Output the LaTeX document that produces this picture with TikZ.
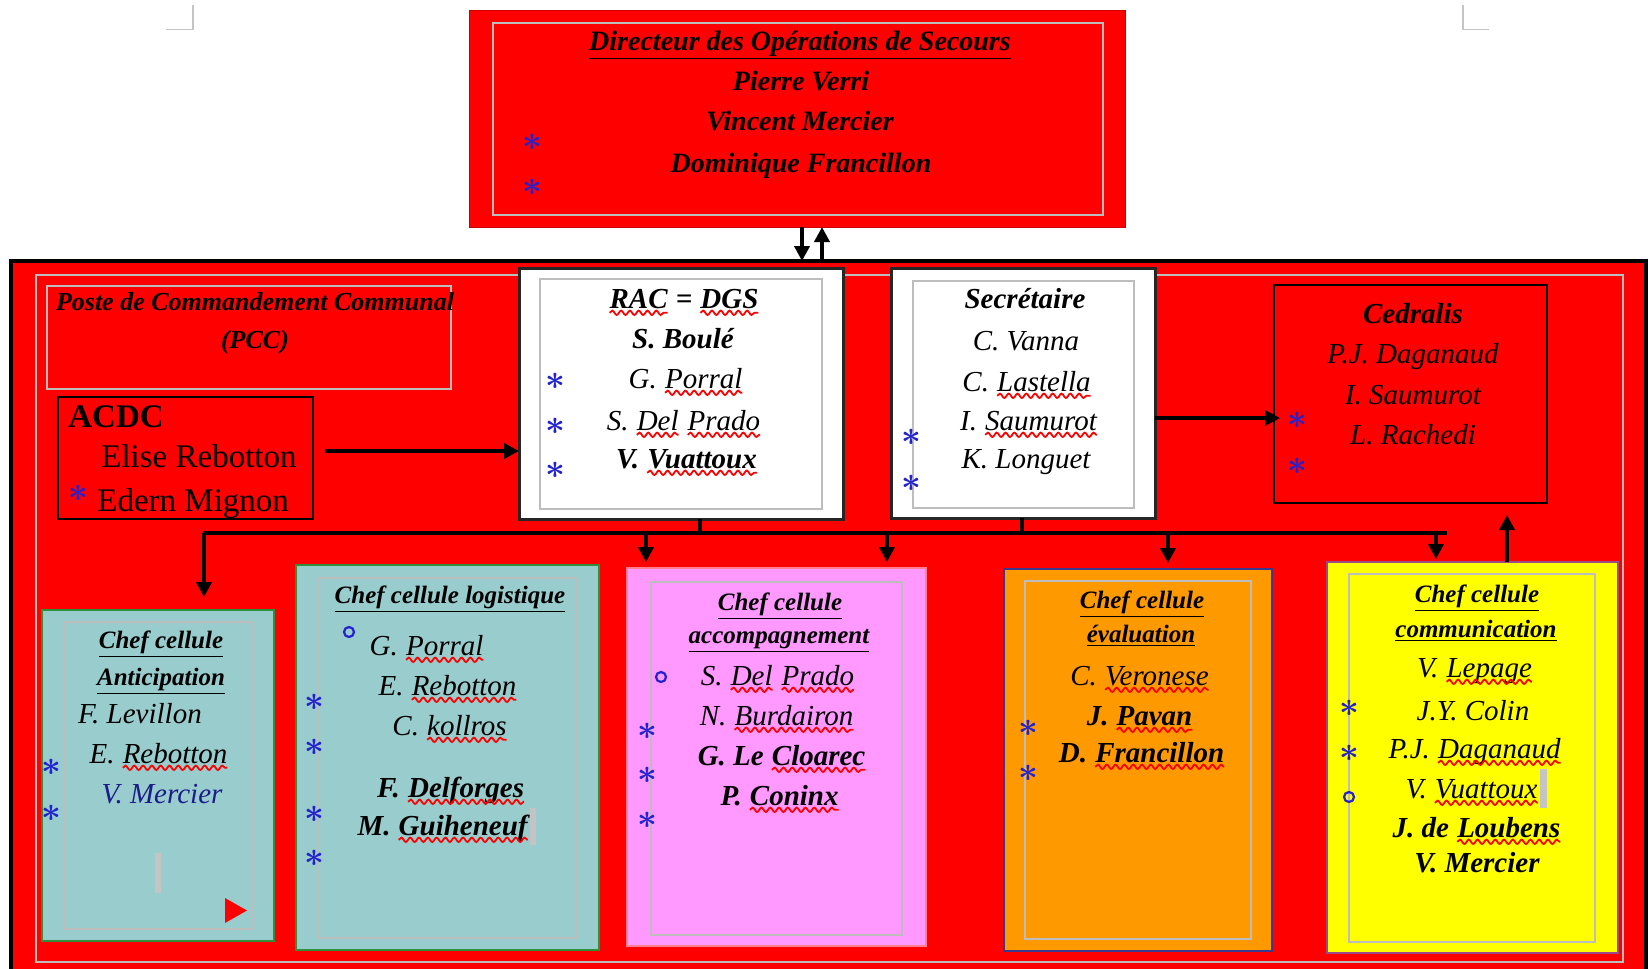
\documentclass[tikz,border=0pt]{standalone}
\usepackage{fontspec}
\setmainfont{Liberation Serif}
\usetikzlibrary{arrows.meta,fit,decorations.pathmorphing}
\definecolor{pred}{HTML}{FF0000}
\definecolor{tealfill}{HTML}{99CCCC}
\definecolor{tealedge}{HTML}{2F8F3A}
\definecolor{pinkfill}{HTML}{FF99FF}
\definecolor{pinkedge}{HTML}{FF7F8F}
\definecolor{orangefill}{HTML}{FF9900}
\definecolor{orangeedge}{HTML}{3A3A8C}
\definecolor{yellowfill}{HTML}{FFFF00}
\definecolor{yellowedge}{HTML}{9A4A8A}
\definecolor{fgray}{HTML}{BDBDBD}
\definecolor{cgray}{HTML}{C4C4C4}
\definecolor{sblue}{HTML}{2222D0}
\definecolor{navyname}{HTML}{1C1C8A}
\tikzset{wavy/.style={draw=red, line width=0.9pt, decorate,
  decoration={snake, amplitude=1.1pt, segment length=4.4pt}}}
\newcommand\sq[1]{\tikz[baseline=(sqw.base)]{\node[inner sep=0pt, outer sep=0pt, anchor=base] (sqw) {#1};
  \path[wavy] ([yshift=-2.4pt]sqw.base west) -- ([yshift=-2.4pt]sqw.base east);}}
\begin{document}
\begin{tikzpicture}[x=0.5pt,y=-0.5pt,
  panel/.style={inner sep=0pt, outer sep=0pt},
  frame/.style={panel, draw=fgray, line width=0.6pt},
  cropmark/.style={draw=cgray, line width=0.6pt},
  nm/.style={anchor=base, inner sep=0pt, font=\fontsize{14.5}{17}\selectfont\itshape},
  bnm/.style={anchor=base, inner sep=0pt, font=\fontsize{14.5}{17}\selectfont\bfseries\itshape},
  hd/.style={anchor=base, inner sep=0pt, font=\fontsize{12.5}{15}\selectfont\bfseries\itshape},
  hdp/.style={anchor=base, inner sep=0pt, font=\fontsize{13}{15}\selectfont\bfseries\itshape},
  dosf/.style={anchor=base, inner sep=0pt, font=\fontsize{14}{17}\selectfont\bfseries\itshape},
  acf/.style={anchor=base west, inner sep=0pt, font=\fontsize{16.5}{20}\selectfont},
  star/.style={inner sep=0pt, text=sblue, font=\fontsize{17}{17}\selectfont\boldmath},
  ring/.style={circle, draw=sblue, line width=1.1pt, minimum size=5pt, inner sep=0pt},
  arr/.style={line width=2pt, -{Triangle[length=7.5pt,width=7.5pt]}},
  bus/.style={line width=2pt},
  cursorbar/.style={fill=cgray},
  tealbox/.style={panel, fill=tealfill, draw=tealedge, line width=1.2pt},
]
\useasboundingbox (0,0) rectangle (1650,969);
\clip (0,0) rectangle (1650,969);

% crop marks
\draw[cropmark] (166,29.5) -- (193,29.5) -- (193,5);
\draw[cropmark] (1489,29.5) -- (1463,29.5) -- (1463,5);

% big PCC box
\node[panel, fit={(11,261) (1646,1010)}, fill=pred, draw=black, line width=2pt] (pcc) {};
\node[frame, fit={(36,275) (1623,962)}] (pccin) {};

% DOS
\node[panel, fit={(469,10) (1125,227)}, fill=pred, draw=pred!80!black, line width=0.4pt] (dos) {};
\node[frame, fit={(493,23) (1103,215)}] (dosin) {};
\node[dosf] (dos1) at (800,50) {\underline{Directeur des Opérations de Secours}};
\node[dosf] (dos2) at (801,90) {Pierre Verri};
\node[dosf] (dos3) at (800,130) {Vincent Mercier};
\node[dosf] (dos4) at (801,172) {Dominique Francillon};
\node[star] (ds1) at (532,142) {$\ast$};
\node[star] (ds2) at (532,187) {$\ast$};

% PCC label
\node[frame, fit={(47,286) (451,389)}] (pcclab) {};
\node[hdp] (pcc1) at (255,310) {Poste de Commandement Communal};
\node[hdp] (pcc2) at (255,348) {(PCC)};

% ACDC
\node[panel, fit={(58,397) (313,519)}, draw=black, line width=0.8pt] (acdc) {};
\node[acf, font=\fontsize{16.5}{20}\selectfont\bfseries] (acdc1) at (68,427) {ACDC};
\node[acf] (acdc2) at (101,467) {Elise Rebotton};
\node[acf] (acdc3) at (97,511) {Edern Mignon};
\node[star] (as1) at (78,493) {$\ast$};

% RAC
\node[panel, fit={(519,268) (843,519)}, fill=white, draw=black!85, line width=1.5pt] (rac) {};
\node[frame, fit={(540,279) (822,509)}] (racin) {};
\node[bnm] (rac1) at (684,308) {\sq{RAC} = \sq{DGS}};
\node[bnm] (rac2) at (683,348) {S. Boulé};
\node[nm] (rac3) at (686,388) {G. \sq{Porral}};
\node[nm] (rac4) at (684,430) {S. \sq{Del} \sq{Prado}};
\node[bnm] (rac5) at (687,468) {V. \sq{Vuattoux}};
\node[star] (rs1) at (555,381) {$\ast$};
\node[star] (rs2) at (555,426) {$\ast$};
\node[star] (rs3) at (555,470) {$\ast$};

% Secretaire
\node[panel, fit={(891,268) (1155,518)}, fill=white, draw=black!85, line width=1.5pt] (sec) {};
\node[frame, fit={(913,281) (1134,508)}] (secin) {};
\node[bnm] (sec1) at (1025,308) {Secrétaire};
\node[nm] (sec2) at (1026,350) {C. Vanna};
\node[nm] (sec3) at (1027,391) {C. \sq{Lastella}};
\node[nm] (sec4) at (1029,430) {I. \sq{Saumurot}};
\node[nm] (sec5) at (1026,468) {K. Longuet};
\node[star] (ss1) at (911,437) {$\ast$};
\node[star] (ss2) at (911,483) {$\ast$};

% Cedralis
\node[panel, fit={(1274,285) (1547,503)}, draw=black, line width=1pt] (ced) {};
\node[bnm] (ced1) at (1413,323) {Cedralis};
\node[nm] (ced2) at (1413,363) {P.J. Daganaud};
\node[nm] (ced3) at (1413,404) {I. Saumurot};
\node[nm] (ced4) at (1413,444) {L. Rachedi};
\node[star] (cs1) at (1297,420) {$\ast$};
\node[star] (cs2) at (1297,466) {$\ast$};

% Anticipation
\node[tealbox, fit={(42,610) (274,941)}] (anti) {};
\node[frame, fit={(65,622) (252,929)}] (antiin) {};
\node[hd] (an1) at (161,648) {\underline{Chef cellule}};
\node[hd] (an2) at (161,685) {\underline{Anticipation}};
\node[nm] (an3) at (140,723) {F. Levillon};
\node[nm] (an4) at (159,763) {E. \sq{Rebotton}};
\node[nm, text=navyname] (an5) at (162,803) {V. Mercier};
\node[star] (ans1) at (51,767) {$\ast$};
\node[star] (ans2) at (51,813) {$\ast$};
\fill[cursorbar] (155,853) rectangle (161,893);
\fill[pred] (225,898) -- (225,923) -- (247,910.5) -- cycle;

% Logistique
\node[tealbox, fit={(296,565) (599,950)}] (logi) {};
\node[frame, fit={(318,578) (577,938)}] (logiin) {};
\node[hd] (lo1) at (450,603) {\underline{Chef cellule logistique}};
\node[ring] (lor) at (349,632) {};
\node[nm] (lo2) at (427,655) {G. \sq{Porral}};
\node[nm] (lo3) at (448,695) {E. \sq{Rebotton}};
\node[nm] (lo4) at (450,735) {C. \sq{kollros}};
\node[bnm] (lo5) at (451,797) {F. \sq{Delforges}};
\node[bnm] (lo6) at (443,835) {M. \sq{Guiheneuf}};
\fill[cursorbar] ([xshift=0.5pt,yshift=-5pt]lo6.base east) rectangle ++(3pt,18.5pt);
\node[star] (los1) at (314,702) {$\ast$};
\node[star] (los2) at (314,747) {$\ast$};
\node[star] (los3) at (314,814) {$\ast$};
\node[star] (los4) at (314,858) {$\ast$};

% Accompagnement
\node[panel, fit={(627,568) (926,946)}, fill=pinkfill, draw=pinkedge, line width=1.2pt] (acc) {};
\node[frame, fit={(651,582) (902,935)}] (accin) {};
\node[hd] (ac1) at (780,610) {\underline{Chef cellule}};
\node[hd] (ac2) at (779,643) {\underline{accompagnement}};
\node[ring] (acr) at (661,677) {};
\node[nm] (ac3) at (778,685) {S. \sq{Del} \sq{Prado}};
\node[nm] (ac4) at (777,725) {N. \sq{Burdairon}};
\node[bnm] (ac5) at (782,765) {G. Le \sq{Cloarec}};
\node[bnm] (ac6) at (780,805) {P. \sq{Coninx}};
\node[star] (acs1) at (647,731) {$\ast$};
\node[star] (acs2) at (647,775) {$\ast$};
\node[star] (acs3) at (647,820) {$\ast$};

% Evaluation
\node[panel, fit={(1004,569) (1272,951)}, fill=orangefill, draw=orangeedge, line width=1pt] (eva) {};
\node[frame, fit={(1025,581) (1251,939)}] (evain) {};
\node[hd] (ev1) at (1142,608) {\underline{Chef cellule}};
\node[hd] (ev2) at (1141,642) {\underline{évaluation}};
\node[nm] (ev3) at (1140,685) {C. \sq{Veronese}};
\node[bnm] (ev4) at (1140,725) {J. \sq{Pavan}};
\node[bnm] (ev5) at (1142,762) {D. \sq{Francillon}};
\node[star] (evs1) at (1028,728) {$\ast$};
\node[star] (evs2) at (1028,773) {$\ast$};

% Communication
\node[panel, fit={(1327,562) (1618,953)}, fill=yellowfill, draw=yellowedge, line width=1.2pt] (com) {};
\node[frame, fit={(1349,574) (1595,942)}] (comin) {};
\node[hd] (co1) at (1477,602) {\underline{Chef cellule}};
\node[hd] (co2) at (1476,637) {\underline{communication}};
\node[nm] (co3) at (1475,677) {V. \sq{Lepage}};
\node[nm] (co4) at (1473,720) {J.Y. Colin};
\node[nm] (co5) at (1475,758) {P.J. \sq{Daganaud}};
\node[nm] (co6) at (1472,798) {V. \sq{Vuattoux}};
\fill[cursorbar] ([xshift=0.5pt,yshift=-5pt]co6.base east) rectangle ++(3.5pt,19.5pt);
\node[bnm] (co7) at (1477,837) {J. de \sq{Loubens}};
\node[bnm] (co8) at (1477,872) {V. Mercier};
\node[star] (cos1) at (1349,708) {$\ast$};
\node[star] (cos2) at (1349,753) {$\ast$};
\node[ring] (cor) at (1349,797) {};

% connectors
\draw[arr] ([xshift=2.5pt]dos.south) -- ([xshift=2.5pt]dos.south |- pcc.north);
\draw[arr] ([xshift=12.5pt]dos.south |- pcc.north) -- ([xshift=12.5pt]dos.south);

\coordinate (ay) at (0,451);
\draw[arr] ([xshift=6pt]acdc.east |- ay) -- (rac.west |- ay);
\coordinate (sy) at (0,418);
\draw[arr] (sec.east |- sy) -- ([xshift=3pt]ced.west |- sy);

\coordinate (busL) at (203,533);
\coordinate (busR) at (1447,533);
\coordinate (b1) at (700,533);
\coordinate (b2) at (1022,533);
\draw[bus] (busL) -- (busR);
\draw[bus] (rac.south -| b1) -- (b1);
\draw[bus] (sec.south -| b2) -- (b2);

\coordinate (d1) at (204,533);
\coordinate (d2) at (646,533);
\coordinate (d3) at (887,533);
\coordinate (d4) at (1168,533);
\coordinate (d5) at (1436,533);
\coordinate (u1) at (1507,0);
\draw[arr, shorten >=6.5pt] (d1) -- (anti.north -| d1);
\draw[arr, shorten >=3pt] (d2) -- (acc.north -| d2);
\draw[arr, shorten >=3pt] (d3) -- (acc.north -| d3);
\draw[arr, shorten >=3pt] (d4) -- (eva.north -| d4);
\draw[arr, shorten >=1.5pt] (d5) -- (com.north -| d5);
\draw[arr, shorten >=6pt] (com.north -| u1) -- (ced.south -| u1);
\end{tikzpicture}
\end{document}
